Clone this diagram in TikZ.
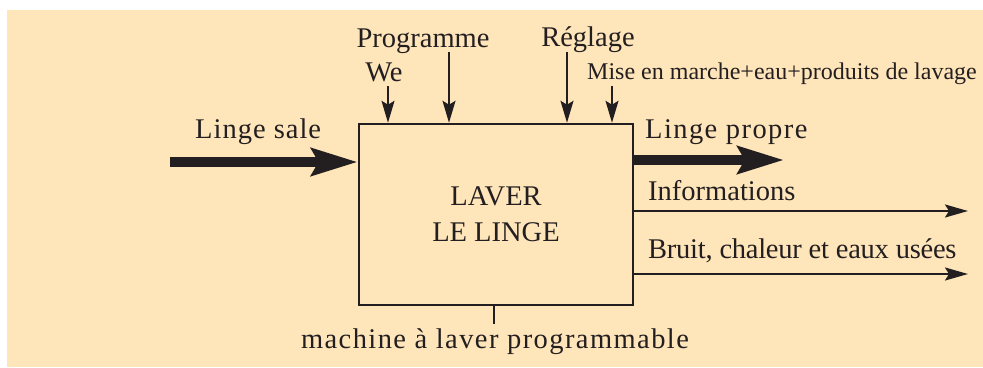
\documentclass[tikz,border=0pt]{standalone}
\usepackage{fontspec}
\setmainfont{Liberation Serif}
\usetikzlibrary{arrows.meta}
\definecolor{bgbeige}{RGB}{255,229,186}
\definecolor{ink}{RGB}{35,31,32}
\tikzset{
  lbl/.style={inner sep=0pt, text=ink, font=\fontsize{28.5}{36}\selectfont},
  smalllbl/.style={inner sep=0pt, text=ink, font=\fontsize{24}{28}\selectfont},
  spacedlbl/.style={inner sep=0pt, text=ink, font=\fontsize{28.5}{36}\selectfont\addfontfeatures{LetterSpace=#1}},
  thinarrow/.style={draw=ink, line width=1.8pt, -{Stealth[length=22pt,width=13pt,inset=4pt]}},
  outarrow/.style={draw=ink, line width=2pt, -{Stealth[length=23pt,width=13pt,inset=4pt]}},
  fatarrow/.style={draw=ink, line width=10pt, -{Stealth[length=46pt,width=27pt,inset=7pt]}},
  mainbox/.style={draw=ink, line width=2.5pt, minimum width=274pt, minimum height=181pt, inner sep=0pt, align=center, text=ink, font=\fontsize{28.5}{36}\selectfont},
}
\begin{document}
\begin{tikzpicture}[x=1pt,y=-1pt]
\useasboundingbox (0,0) rectangle (983,367);
\fill[bgbeige] (7,10) rectangle (983,367);

\node[mainbox] (box) at (496,214.5) {LAVER\\LE LINGE};

% top labels
\node[lbl, anchor=base] (prog) at (423,47) {Programme};
\node[lbl, anchor=base] (we) at (384,81) {We};
\node[lbl, anchor=base] (regl) at (588,46) {Réglage};
\node[smalllbl, anchor=base west] (mise) at (587,79) {Mise en marche+eau+produits de lavage};

% top arrows
\coordinate (t1) at (388,86);
\coordinate (t2) at (449,52);
\coordinate (t3) at (567,52);
\coordinate (t4) at (612,86);
\draw[thinarrow] (t1) -- (t1 |- box.north);
\draw[thinarrow] (t2) -- (t2 |- box.north);
\draw[thinarrow] (t3) -- (t3 |- box.north);
\draw[thinarrow] (t4) -- (t4 |- box.north);

% left input
\node[spacedlbl=3.5, anchor=base west] (sale) at (195,138) {Linge sale};
\coordinate (ls) at (170,162);
\draw[fatarrow] (ls) -- (box.west |- ls);

% right outputs
\node[spacedlbl=5, anchor=base west] (propre) at (645,138) {Linge propre};
\coordinate (lp) at (784,160);
\draw[fatarrow] (box.east |- lp) -- (lp);

\node[lbl, anchor=base west] (info) at (648,200) {Informations};
\coordinate (ie) at (968,211);
\draw[outarrow] (box.east |- ie) -- (ie);

\node[spacedlbl=-0.9, anchor=base west] (bruit) at (648,258) {Bruit, chaleur et eaux usées};
\coordinate (be) at (968,274);
\draw[outarrow] (box.east |- be) -- (be);

% bottom mechanism
\coordinate (mt) at (494,324);
\draw[draw=ink, line width=2pt] (box.south -| mt) -- (mt);
\node[spacedlbl=5, anchor=base] (mach) at (495,348) {machine à laver programmable};
\end{tikzpicture}
\end{document}
